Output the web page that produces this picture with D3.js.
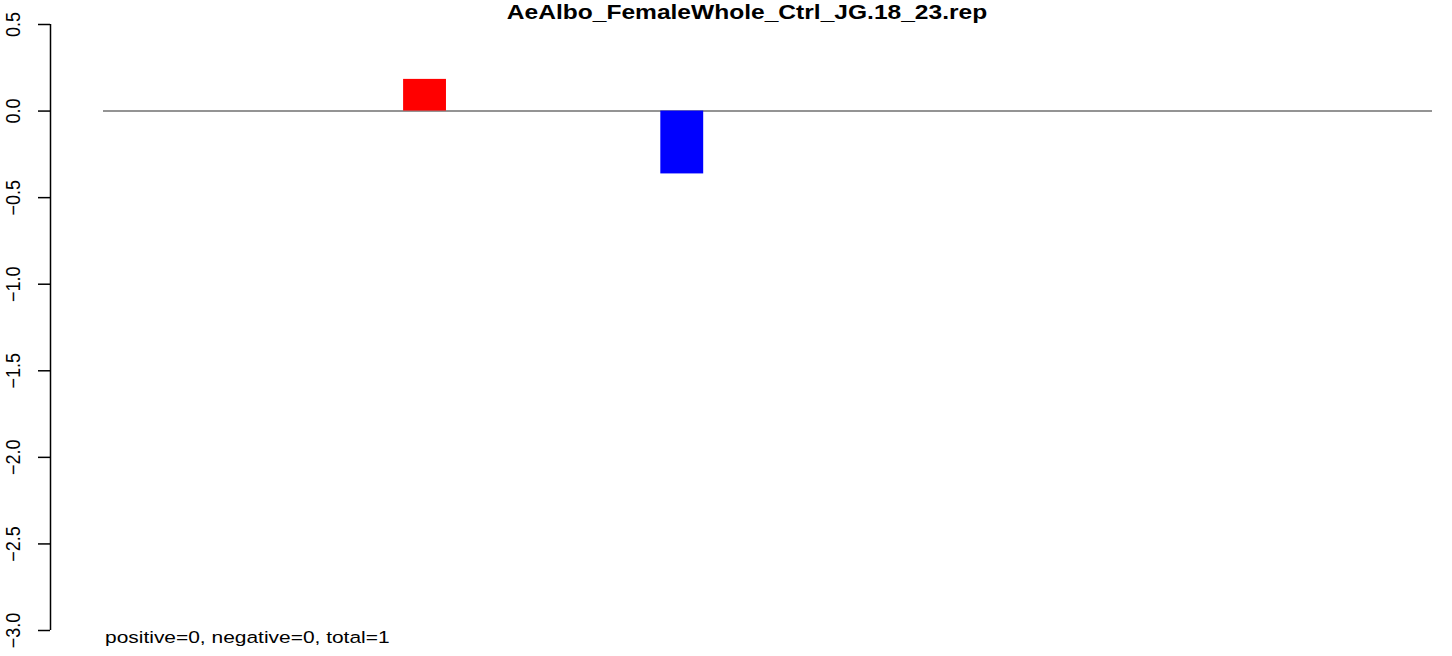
<!DOCTYPE html>
<html>
<head>
<meta charset="utf-8">
<script src="https://cdn.jsdelivr.net/npm/d3@7"></script>
<style>
  body { margin: 0; background: #fff; }
  svg { display: block; font-family: "Liberation Sans", Arial, sans-serif; }
</style>
</head>
<body>
<div id="container"></div>
<script>
/* CONSTANTS AND GLOBALS */
const width = 1452;
const height = 656;

// data
const title = "AeAlbo_FemaleWhole_Ctrl_JG.18_23.rep";
const note = "positive=0, negative=0, total=1";
const barStart = [7, 13];          // left edge of each bar (x units)
const barValue = [0.183, -0.363];
const barColor = ["#ff0000", "#0000ff"];
const yTicks = [0.5, 0.0, -0.5, -1.0, -1.5, -2.0, -2.5, -3.0];
const xExtent = [0, 31];

const svg = d3.select("#container")
  .append("svg")
  .attr("width", width)
  .attr("height", height);

/* SCALES */
const xScale = d3.scaleLinear().domain(xExtent).range([103, 1432]);
const yScale = d3.scaleLinear().domain([0.5, -3.0]).range([24, 630]);

// y axis
const yAxis = d3.axisLeft(yScale)
  .tickValues(yTicks)
  .tickSize(12)
  .tickPadding(0)
  .tickFormat(d => d3.format(".1f")(d).replace("-", "\u2212"));

const gy = svg.append("g")
  .attr("transform", "translate(50,0)")
  .call(yAxis);
gy.select(".domain")
  .attr("d", `M0.5,${yScale(0.5)}V${yScale(-3.0)}`)
  .attr("stroke", "#000")
  .attr("stroke-width", 1.5);
gy.selectAll(".tick line").attr("stroke", "#000").attr("stroke-width", 1.5);
gy.selectAll(".tick text")
  .attr("x", null).attr("dy", null)
  .attr("transform", "translate(-30,0) scale(1.1,1) rotate(-90)")
  .attr("text-anchor", "middle")
  .attr("fill", "#000")
  .style("font-size", "18px");

// zero line
svg.append("line")
  .attr("x1", xScale(xExtent[0]))
  .attr("x2", xScale(xExtent[1]))
  .attr("y1", yScale(0) + 0.5)
  .attr("y2", yScale(0) + 0.5)
  .attr("stroke", "#707070")
  .attr("stroke-width", 1.5);

// bars
svg.selectAll(".bar")
  .data(barValue)
  .join("rect")
  .attr("class", "bar")
  .attr("x", (d, i) => xScale(barStart[i]))
  .attr("width", (d, i) => xScale(barStart[i] + 1) - xScale(barStart[i]))
  .attr("y", d => yScale(Math.max(0, d)))
  .attr("height", d => Math.abs(yScale(d) - yScale(0)))
  .attr("fill", (d, i) => barColor[i]);

// title
svg.append("text")
  .attr("transform", "translate(747,19) scale(1.17,1)")
  .attr("text-anchor", "middle")
  .style("font-weight", "bold")
  .style("font-size", "21px")
  .text(title);

// bottom note
svg.append("text")
  .attr("transform", "translate(105,643) scale(1.27,1)")
  .style("font-size", "16.5px")
  .text(note);
</script>
</body>
</html>
